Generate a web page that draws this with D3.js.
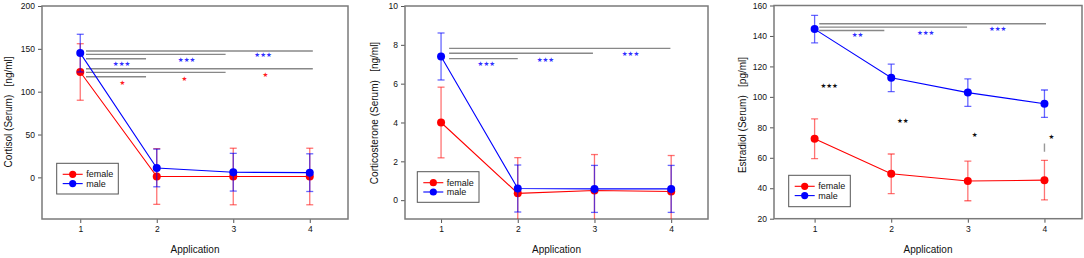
<!DOCTYPE html>
<html>
<head>
<meta charset="utf-8">
<script src="https://cdn.jsdelivr.net/npm/d3@7"></script>
<style>
  body { margin: 0; background: #fff; }
  text { font-family: "Liberation Sans", Arial, sans-serif; }
  .pre { white-space: pre; }
</style>
</head>
<body>
<svg id="chart" width="1084" height="258"></svg>
<script>
// ---------- data ----------
const categories = [1, 2, 3, 4];
const tickLabelsX = ["1", "2", "3", "4"];

const cortisolFemale = [123, 1, 1, 1];
const cortisolFemaleErr = [33, 32.5, 33, 33];
const cortisolMale = [145, 11, 6, 5.5];
const cortisolMaleErr = [22, 22, 22, 22];
const cortisolTicks = [0, 50, 100, 150, 200];

const corticosteroneFemale = [4.0, 0.35, 0.5, 0.45];
const corticosteroneFemaleErr = [1.82, 1.84, 1.85, 1.85];
const corticosteroneMale = [7.4, 0.6, 0.58, 0.58];
const corticosteroneMaleErr = [1.21, 1.21, 1.21, 1.21];
const corticosteroneTicks = [0, 2, 4, 6, 8, 10];

const estradiolFemale = [72.5, 49.5, 44.8, 45.3];
const estradiolFemaleErr = [13, 13, 13, 13];
const estradiolMale = [144.5, 112.5, 102.8, 95.5];
const estradiolMaleErr = [9, 9, 9, 9];
const estradiolTicks = [20, 40, 60, 80, 100, 120, 140, 160];

// significance brackets: [y value, x from, x to]
const cortisolBrackets = [[147.4, 1.075, 4.04], [143.5, 1.075, 2.9], [138.4, 1.075, 1.86],
                          [126.7, 1.075, 4.04], [122.5, 1.075, 2.9], [117.4, 1.075, 1.86]];
// stars: [x value, y value, label, group]
const cortisolStars = [[1.54, 132, "***", "male"], [2.39, 137, "***", "male"], [3.39, 142.7, "***", "male"],
                       [1.55, 110, "*", "female"], [2.36, 115, "*", "female"], [3.42, 120, "*", "female"]];

const corticosteroneBrackets = [[7.82, 1.105, 3.99], [7.57, 1.105, 2.98], [7.29, 1.105, 2.0]];
const corticosteroneStars = [[1.59, 7.0, "***", "male"], [2.36, 7.22, "***", "male"], [3.47, 7.51, "***", "male"]];

const estradiolBrackets = [[148, 1.06, 4.02], [145.8, 1.06, 2.99], [143.6, 1.06, 1.91]];
const estradiolStars = [[1.56, 140.7, "**", "male"], [2.45, 141.8, "***", "male"], [3.39, 144.5, "***", "male"],
                        [1.19, 107, "***", "sex"], [2.15, 84.3, "**", "sex"], [3.09, 74.9, "*", "sex"], [4.09, 73.4, "*", "sex"]];
const estradiolMarks = [[4.0, 64, 69.4]];

const seriesNames = ["female", "male"];

// ---------- drawing ----------
const svg = d3.select("#chart");
const colors = { female: "#ff0000", male: "#0000ff", sex: "#111" };
const starColors = { female: "#ff2020", male: "#3030ff", sex: "#111" };
const errColors = { female: "rgba(255,0,0,0.55)", male: "rgba(0,0,255,0.6)" };

const panels = [
  { id: "p1", x0: 42, x1: 348, y0: 6, y1: 219, xDomain: [0.5, 4.5], yDomain: [-48.6, 200], yTicks: cortisolTicks,
    female: cortisolFemale, femaleErr: cortisolFemaleErr, male: cortisolMale, maleErr: cortisolMaleErr,
    brackets: cortisolBrackets, stars: cortisolStars, marks: [],
    ylabel: "Cortisol (Serum)   [ng/ml]", ylx: 8, yly: 112,
    legend: [56.7, 163.3, 61.6, 30.7] },
  { id: "p2", x0: 405, x1: 708, y0: 6, y1: 219, xDomain: [0.53, 4.48], yDomain: [-0.97, 10], yTicks: corticosteroneTicks,
    female: corticosteroneFemale, femaleErr: corticosteroneFemaleErr, male: corticosteroneMale, maleErr: corticosteroneMaleErr,
    brackets: corticosteroneBrackets, stars: corticosteroneStars, marks: [],
    ylabel: "Corticosterone (Serum)   [ng/ml]", ylx: 374, yly: 113,
    legend: [417.3, 171.7, 61.7, 30.6] },
  { id: "p3", x0: 774, x1: 1082, y0: 5.5, y1: 218.7, xDomain: [0.47, 4.49], yDomain: [20, 160], yTicks: estradiolTicks,
    female: estradiolFemale, femaleErr: estradiolFemaleErr, male: estradiolMale, maleErr: estradiolMaleErr,
    brackets: estradiolBrackets, stars: estradiolStars, marks: estradiolMarks,
    ylabel: "Estradiol (Serum)   [pg/ml]", ylx: 742, yly: 115,
    legend: [788.7, 175.3, 61.6, 31.4] }
];

panels.forEach(p => {
  const x = d3.scaleLinear().domain(p.xDomain).range([p.x0, p.x1]);
  const y = d3.scaleLinear().domain(p.yDomain).range([p.y1, p.y0]);
  const g = svg.append("g");

  svg.append("clipPath").attr("id", "clip-" + p.id)
    .append("rect").attr("x", p.x0).attr("y", p.y0).attr("width", p.x1 - p.x0).attr("height", p.y1 - p.y0);

  // axes
  const yAxis = d3.axisLeft(y).tickValues(p.yTicks).tickSize(4).tickPadding(3);
  const ya = g.append("g").attr("transform", `translate(${p.x0},0)`).call(yAxis);
  const xAxis = d3.axisBottom(x).tickValues(categories).tickFormat((d, i) => tickLabelsX[i]).tickSize(4).tickPadding(3);
  const xa = g.append("g").attr("transform", `translate(0,${p.y1})`).call(xAxis);
  [ya, xa].forEach(a => {
    a.select(".domain").remove();
    a.selectAll(".tick line").attr("stroke", "#555");
    a.selectAll(".tick text").attr("font-size", 8.5).style("fill", "#111")
      .style("font-family", '"Liberation Sans", Arial, sans-serif');
  });

  // frame
  g.append("rect").attr("x", p.x0).attr("y", p.y0).attr("width", p.x1 - p.x0).attr("height", p.y1 - p.y0)
    .attr("fill", "none").attr("stroke", "#7a7a7a").attr("stroke-width", 1.5);

  // labels
  g.append("text").attr("class", "pre")
    .attr("transform", `translate(${p.ylx},${p.yly}) rotate(-90)`)
    .attr("text-anchor", "middle").attr("dominant-baseline", "central")
    .attr("font-size", 10).style("fill", "#111").text(p.ylabel);
  g.append("text").attr("x", (p.x0 + p.x1) / 2).attr("y", 252.5)
    .attr("text-anchor", "middle").attr("font-size", 10).style("fill", "#111").text("Application");

  const plot = g.append("g").attr("clip-path", `url(#clip-${p.id})`);

  // significance brackets
  plot.selectAll(".br").data(p.brackets).enter().append("line")
    .attr("x1", d => x(d[1])).attr("x2", d => x(d[2]))
    .attr("y1", d => y(d[0])).attr("y2", d => y(d[0]))
    .attr("stroke", "#888").attr("stroke-width", 1.4);
  plot.selectAll(".mk").data(p.marks).enter().append("line")
    .attr("x1", d => x(d[0])).attr("x2", d => x(d[0]))
    .attr("y1", d => y(d[1])).attr("y2", d => y(d[2]))
    .attr("stroke", "#999").attr("stroke-width", 1.4);
  plot.selectAll(".st").data(p.stars).enter().append("text")
    .attr("x", d => x(d[0])).attr("y", d => y(d[1]))
    .attr("text-anchor", "middle").attr("dominant-baseline", "central")
    .attr("font-size", 6.5).style("font-family", '"DejaVu Sans", sans-serif')
    .style("fill", d => starColors[d[3]])
    .text(d => d[2].replace(/\*/g, "★"));

  // series
  seriesNames.forEach(s => {
    const vals = p[s], errs = p[s + "Err"];
    const pts = categories.map((c, i) => ({ c, v: vals[i], e: errs[i] }));
    // error bars
    const eb = plot.append("g").attr("stroke", errColors[s]).attr("stroke-width", 1.3);
    pts.forEach(d => {
      eb.append("line").attr("x1", x(d.c)).attr("x2", x(d.c)).attr("y1", y(d.v - d.e)).attr("y2", y(d.v + d.e));
      eb.append("line").attr("x1", x(d.c) - 3.5).attr("x2", x(d.c) + 3.5).attr("y1", y(d.v + d.e)).attr("y2", y(d.v + d.e));
      eb.append("line").attr("x1", x(d.c) - 3.5).attr("x2", x(d.c) + 3.5).attr("y1", y(d.v - d.e)).attr("y2", y(d.v - d.e));
    });
    plot.append("path").datum(pts)
      .attr("d", d3.line().x(d => x(d.c)).y(d => y(d.v)))
      .attr("fill", "none").attr("stroke", colors[s]).attr("stroke-width", 1.1);
    plot.selectAll(".pt-" + s).data(pts).enter().append("circle")
      .attr("cx", d => x(d.c)).attr("cy", d => y(d.v)).attr("r", 4).attr("fill", colors[s]);
  });

  // legend
  const [lx, ly, lw, lh] = p.legend;
  const lg = g.append("g");
  lg.append("rect").attr("x", lx).attr("y", ly).attr("width", lw).attr("height", lh)
    .attr("fill", "#fff").attr("stroke", "#555").attr("stroke-width", 1);
  seriesNames.forEach((s, i) => {
    const yy = ly + 11 + i * 9.3;
    lg.append("line").attr("x1", lx + 6).attr("x2", lx + 26).attr("y1", yy).attr("y2", yy)
      .attr("stroke", colors[s]).attr("stroke-width", 1.1);
    lg.append("circle").attr("cx", lx + 16).attr("cy", yy).attr("r", 3.6).attr("fill", colors[s]);
    lg.append("text").attr("x", lx + 29.5).attr("y", yy).attr("dominant-baseline", "central")
      .attr("font-size", 9).style("fill", "#111").text(s);
  });
});
</script>
</body>
</html>
